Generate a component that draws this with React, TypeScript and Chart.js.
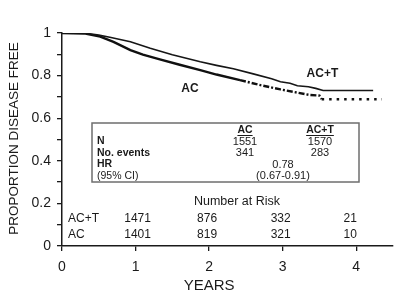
import React, { useEffect, useRef } from "react";
import { Chart, registerables } from "chart.js";

Chart.register(...registerables);

// Kaplan–Meier estimates, disease-free proportion by years since entry
const actYears = [0, 0.3, 0.5, 0.65, 0.93, 1.2, 1.5, 1.88, 2.1, 2.33, 2.6, 2.85, 2.97, 3.1, 3.2, 3.35, 3.45, 3.55, 4.23];
const actSurv = [1, 1, 0.99, 0.98, 0.959, 0.928, 0.898, 0.865, 0.848, 0.832, 0.808, 0.785, 0.771, 0.764, 0.752, 0.748, 0.74, 0.73, 0.73];

const acYears = [0, 0.3, 0.52, 0.7, 0.93, 1.1, 1.33, 1.6, 1.88, 2.1, 2.42, 2.7, 2.97, 3.2, 3.37, 3.5, 3.53, 4.35];
const acSurv = [1, 0.998, 0.983, 0.958, 0.92, 0.898, 0.876, 0.851, 0.826, 0.805, 0.779, 0.755, 0.735, 0.72, 0.709, 0.706, 0.689, 0.689];

// Axis ticks
const xTickValues = [0, 1, 2, 3, 4];
const yTickLabels = ["0", "0.2", "0.4", "0.6", "0.8", "1"];

// Summary table
const groupNames = ["AC", "AC+T"];
const groupN = [1551, 1570];
const groupEvents = [341, 283];
const hazardRatio = "0.78";
const hazardCI = "(0.67-0.91)";
const rowLabels = ["N", "No. events", "HR", "(95% CI)"];

// Number at risk
const riskYears = [1, 2, 3, 4];
const riskACT = [1471, 876, 332, 21];
const riskAC = [1401, 819, 321, 10];

const FONT = '"Liberation Sans", Arial, Helvetica, sans-serif';
const INK = "#1a1a1a";

const overlay = {
  id: "overlay",
  afterDraw(chart: any) {
    const { ctx, chartArea, scales } = chart;
    const x = scales.x;
    const y = scales.y;
    ctx.save();
    ctx.fillStyle = INK;
    ctx.strokeStyle = INK;

    // Axis titles
    ctx.font = `13.5px ${FONT}`;
    ctx.textAlign = "center";
    ctx.textBaseline = "middle";
    ctx.save();
    ctx.translate(14, (chartArea.top + chartArea.bottom) / 2 - 1);
    ctx.rotate(-Math.PI / 2);
    ctx.fillText("PROPORTION DISEASE FREE", 0, 0);
    ctx.restore();
    ctx.font = `15px ${FONT}`;
    ctx.fillText("YEARS", x.getPixelForValue(2), 286);

    // Curve labels
    ctx.font = `bold 12px ${FONT}`;
    ctx.fillText("AC+T", x.getPixelForValue(3.54), y.getPixelForValue(0.807));
    ctx.fillText("AC", x.getPixelForValue(1.74), y.getPixelForValue(0.737));

    // Summary box
    const bx = 92, by = 123, bw = 267, bh = 59;
    ctx.fillStyle = "#ffffff";
    ctx.fillRect(bx, by, bw, bh);
    ctx.strokeStyle = "#6e6e6e";
    ctx.lineWidth = 1.5;
    ctx.strokeRect(bx, by, bw, bh);

    const colX = [245, 320];
    const hrX = 283;
    const rowY = [141.5, 153, 164.5, 176];
    ctx.fillStyle = INK;
    ctx.font = `bold 10.5px ${FONT}`;
    ctx.textAlign = "center";
    groupNames.forEach((g, i) => {
      ctx.fillText(g, colX[i], 130);
      const w = ctx.measureText(g).width;
      ctx.strokeStyle = INK;
      ctx.lineWidth = 1;
      ctx.beginPath();
      ctx.moveTo(colX[i] - w / 2, 135.5);
      ctx.lineTo(colX[i] + w / 2, 135.5);
      ctx.stroke();
    });
    ctx.textAlign = "left";
    rowLabels.forEach((r, i) => {
      ctx.font = i < 3 ? `bold 10.5px ${FONT}` : `10.5px ${FONT}`;
      ctx.fillText(r, 97, rowY[i]);
    });
    ctx.textAlign = "center";
    ctx.font = `11px ${FONT}`;
    groupN.forEach((n, i) => ctx.fillText(String(n), colX[i], rowY[0]));
    groupEvents.forEach((n, i) => ctx.fillText(String(n), colX[i], rowY[1]));
    ctx.fillText(hazardRatio, hrX, rowY[2]);
    ctx.fillText(hazardCI, hrX, rowY[3]);

    // Number at risk
    ctx.font = `12.5px ${FONT}`;
    ctx.fillText("Number at Risk", 237, 202);
    ctx.font = `12px ${FONT}`;
    ctx.textAlign = "left";
    ctx.fillText("AC+T", 68, 219);
    ctx.fillText("AC", 68, 235);
    ctx.textAlign = "center";
    riskYears.forEach((t, i) => {
      const px = x.getPixelForValue(t) + (i === 0 ? 2 : i === 3 ? -6 : -2);
      ctx.fillText(String(riskACT[i]), px, 219);
      ctx.fillText(String(riskAC[i]), px, 235);
    });

    ctx.restore();
  },
};

export default function App() {
  const canvasRef = useRef<HTMLCanvasElement | null>(null);

  useEffect(() => {
    const canvas = canvasRef.current;
    if (!canvas) return;

    const chart = new Chart(canvas, {
      type: "line",
      data: {
        datasets: [
          {
            label: "AC+T",
            data: actYears.map((t, i) => ({ x: t, y: actSurv[i] })),
            borderColor: "#161616",
            borderWidth: 1.6,
            pointRadius: 0,
            tension: 0,
            fill: false,
          },
          {
            label: "AC",
            data: acYears.map((t, i) => ({ x: t, y: acSurv[i] })),
            borderColor: "#101010",
            borderWidth: 2.4,
            pointRadius: 0,
            tension: 0,
            fill: false,
            segment: {
              borderDash: (c: any) => {
                const t = c.p0.parsed.x;
                if (t >= 3.53) return [2.5, 5];
                if (t >= 2.42) return [6, 2, 2, 2];
                return undefined;
              },
            },
          },
        ],
      },
      options: {
        responsive: false,
        animation: false,
        layout: { padding: { top: 33, right: 7, left: 0, bottom: 0 } },
        plugins: {
          legend: { display: false },
          tooltip: { enabled: false },
          title: { display: false },
        },
        scales: {
          x: {
            type: "linear",
            min: 0,
            max: 4.5,
            afterFit: (s: any) => {
              s.height = 56;
            },
            afterBuildTicks: (s: any) => {
              s.ticks = xTickValues.map((v) => ({ value: v }));
            },
            border: { display: true, color: INK, width: 1.5 },
            grid: {
              drawOnChartArea: false,
              drawTicks: true,
              tickLength: 5,
              color: INK,
              lineWidth: 1.3,
            },
            ticks: {
              padding: 8,
              color: INK,
              font: { family: FONT, size: 14 },
              callback: (v: any) => String(v),
              maxRotation: 0,
            },
          },
          y: {
            type: "linear",
            min: 0,
            max: 1,
            afterFit: (s: any) => {
              s.width = 62;
            },
            border: { display: true, color: INK, width: 1.5 },
            grid: {
              drawOnChartArea: false,
              drawTicks: true,
              tickLength: 5,
              color: INK,
              lineWidth: 1.3,
            },
            ticks: {
              stepSize: 0.1,
              padding: 6,
              color: INK,
              font: { family: FONT, size: 14 },
              autoSkip: false,
              callback: (v: any) => {
                const tenths = Math.round(Number(v) * 10);
                return tenths % 2 === 0 ? yTickLabels[tenths / 2] : "";
              },
            },
          },
        },
      },
      plugins: [overlay],
    });

    return () => chart.destroy();
  }, []);

  return (
    <div style={{ position: "fixed", left: 0, top: 0, width: 400, height: 302, background: "#fff" }}>
      <canvas ref={canvasRef} width={400} height={302} />
    </div>
  );
}
